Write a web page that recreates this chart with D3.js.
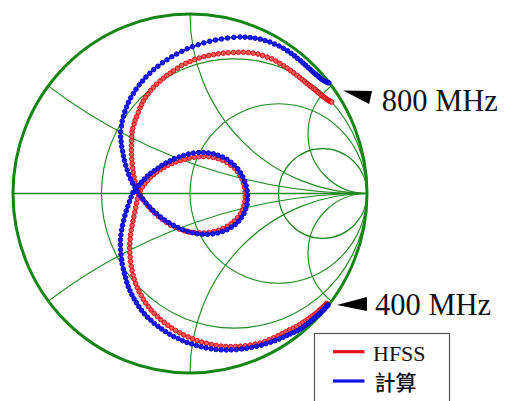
<!DOCTYPE html>
<html>
<head>
<meta charset="utf-8">
<script src="https://cdn.jsdelivr.net/npm/d3@7"></script>
<style>
  html, body { margin: 0; padding: 0; background: #fff; }
  svg { display: block; }
</style>
</head>
<body>
<svg id="chart" width="511" height="401"></svg>
<script>
// Reflection coefficient sweeps from 400 MHz to 800 MHz, stored as [Re Γ, Im Γ]
const seriesNames = ["HFSS", "計算"];

const hfss = [
  [0.772,-0.612],[0.767,-0.618],[0.761,-0.624],[0.754,-0.631],[0.746,-0.637],[0.738,-0.645],[0.730,-0.652],[0.721,-0.660],
  [0.711,-0.667],[0.701,-0.676],[0.689,-0.684],[0.677,-0.693],[0.664,-0.702],[0.650,-0.711],[0.635,-0.721],[0.618,-0.731],
  [0.601,-0.741],[0.582,-0.751],[0.562,-0.760],[0.541,-0.771],[0.519,-0.782],[0.496,-0.793],[0.472,-0.804],[0.447,-0.814],
  [0.422,-0.825],[0.395,-0.833],[0.368,-0.839],[0.341,-0.844],[0.313,-0.848],[0.285,-0.851],[0.258,-0.852],[0.230,-0.853],
  [0.202,-0.852],[0.175,-0.850],[0.147,-0.846],[0.120,-0.841],[0.093,-0.835],[0.066,-0.828],[0.040,-0.820],[0.015,-0.810],
  [-0.010,-0.799],[-0.035,-0.788],[-0.058,-0.776],[-0.081,-0.763],[-0.103,-0.749],[-0.125,-0.734],[-0.146,-0.718],[-0.166,-0.702],
  [-0.185,-0.685],[-0.203,-0.667],[-0.220,-0.649],[-0.236,-0.630],[-0.250,-0.610],[-0.264,-0.589],[-0.276,-0.568],[-0.288,-0.546],
  [-0.298,-0.524],[-0.307,-0.501],[-0.315,-0.477],[-0.322,-0.454],[-0.327,-0.429],[-0.332,-0.405],[-0.336,-0.379],[-0.338,-0.354],
  [-0.340,-0.329],[-0.341,-0.304],[-0.340,-0.279],[-0.338,-0.254],[-0.336,-0.229],[-0.332,-0.204],[-0.327,-0.179],[-0.322,-0.154],
  [-0.317,-0.129],[-0.312,-0.104],[-0.307,-0.079],[-0.302,-0.054],[-0.297,-0.029],[-0.291,-0.005],[-0.281,0.016],[-0.269,0.036],
  [-0.255,0.055],[-0.240,0.073],[-0.224,0.090],[-0.206,0.105],[-0.188,0.120],[-0.168,0.133],[-0.147,0.145],[-0.125,0.157],
  [-0.102,0.167],[-0.079,0.176],[-0.054,0.183],[-0.029,0.191],[-0.004,0.197],[0.023,0.202],[0.050,0.205],[0.077,0.206],
  [0.105,0.205],[0.132,0.201],[0.159,0.194],[0.184,0.185],[0.208,0.173],[0.230,0.158],[0.250,0.142],[0.267,0.123],
  [0.282,0.102],[0.294,0.080],[0.303,0.056],[0.309,0.032],[0.312,0.007],[0.312,-0.018],[0.310,-0.044],[0.304,-0.068],
  [0.296,-0.092],[0.284,-0.114],[0.269,-0.135],[0.251,-0.153],[0.232,-0.169],[0.210,-0.183],[0.186,-0.195],[0.161,-0.205],
  [0.134,-0.212],[0.107,-0.217],[0.079,-0.220],[0.051,-0.220],[0.024,-0.218],[-0.004,-0.215],[-0.031,-0.208],[-0.058,-0.199],
  [-0.084,-0.188],[-0.109,-0.176],[-0.133,-0.161],[-0.156,-0.145],[-0.178,-0.128],[-0.199,-0.109],[-0.219,-0.090],[-0.237,-0.070],
  [-0.254,-0.049],[-0.270,-0.027],[-0.283,-0.005],[-0.294,0.018],[-0.303,0.042],[-0.311,0.067],[-0.316,0.092],[-0.321,0.117],
  [-0.324,0.142],[-0.327,0.167],[-0.329,0.192],[-0.330,0.217],[-0.331,0.242],[-0.331,0.267],[-0.330,0.293],[-0.329,0.318],
  [-0.327,0.342],[-0.323,0.363],[-0.316,0.387],[-0.310,0.408],[-0.301,0.428],[-0.292,0.452],[-0.283,0.476],[-0.273,0.496],
  [-0.264,0.515],[-0.251,0.535],[-0.237,0.554],[-0.223,0.573],[-0.207,0.591],[-0.189,0.609],[-0.169,0.627],[-0.151,0.642],
  [-0.132,0.657],[-0.113,0.670],[-0.094,0.683],[-0.071,0.698],[-0.048,0.713],[-0.024,0.725],[0.000,0.735],[0.026,0.747],
  [0.052,0.755],[0.079,0.763],[0.106,0.769],[0.133,0.774],[0.160,0.778],[0.188,0.782],[0.216,0.784],[0.245,0.786],
  [0.273,0.787],[0.301,0.787],[0.329,0.785],[0.357,0.782],[0.384,0.777],[0.410,0.769],[0.436,0.760],[0.461,0.750],
  [0.485,0.738],[0.507,0.725],[0.529,0.712],[0.549,0.699],[0.568,0.685],[0.586,0.672],[0.603,0.659],[0.619,0.647],
  [0.634,0.635],[0.648,0.624],[0.661,0.613],[0.673,0.603],[0.685,0.594],[0.697,0.585],[0.707,0.577],[0.718,0.568],
  [0.727,0.560],[0.736,0.553],[0.745,0.547],[0.753,0.540],[0.760,0.535],[0.767,0.530],[0.773,0.525],[0.779,0.521],
  [0.784,0.518],[0.789,0.515],[0.793,0.513],[0.797,0.511],[0.801,0.510]
];

const calc = [
  [0.780,-0.621],[0.774,-0.627],[0.768,-0.633],[0.762,-0.640],[0.755,-0.647],[0.748,-0.654],[0.740,-0.662],[0.732,-0.670],
  [0.723,-0.677],[0.713,-0.686],[0.703,-0.694],[0.692,-0.704],[0.680,-0.714],[0.667,-0.724],[0.653,-0.734],[0.637,-0.745],
  [0.622,-0.755],[0.605,-0.765],[0.586,-0.774],[0.567,-0.782],[0.547,-0.791],[0.525,-0.801],[0.503,-0.811],[0.479,-0.820],
  [0.455,-0.829],[0.429,-0.837],[0.403,-0.845],[0.376,-0.851],[0.348,-0.857],[0.320,-0.862],[0.291,-0.866],[0.262,-0.870],
  [0.233,-0.871],[0.205,-0.872],[0.176,-0.871],[0.147,-0.869],[0.119,-0.865],[0.090,-0.860],[0.063,-0.854],[0.036,-0.847],
  [0.009,-0.838],[-0.017,-0.830],[-0.042,-0.820],[-0.067,-0.808],[-0.092,-0.797],[-0.115,-0.784],[-0.138,-0.770],[-0.160,-0.755],
  [-0.181,-0.740],[-0.202,-0.724],[-0.221,-0.706],[-0.240,-0.689],[-0.258,-0.670],[-0.274,-0.650],[-0.289,-0.630],[-0.303,-0.609],
  [-0.316,-0.587],[-0.328,-0.565],[-0.339,-0.542],[-0.349,-0.519],[-0.357,-0.495],[-0.364,-0.470],[-0.371,-0.445],[-0.377,-0.420],
  [-0.383,-0.393],[-0.386,-0.367],[-0.390,-0.340],[-0.392,-0.313],[-0.393,-0.285],[-0.393,-0.258],[-0.390,-0.231],[-0.386,-0.203],
  [-0.381,-0.177],[-0.375,-0.150],[-0.368,-0.123],[-0.360,-0.097],[-0.351,-0.071],[-0.342,-0.045],[-0.333,-0.020],[-0.322,0.005],
  [-0.307,0.025],[-0.292,0.044],[-0.275,0.062],[-0.258,0.080],[-0.240,0.097],[-0.222,0.113],[-0.202,0.127],[-0.181,0.141],
  [-0.159,0.157],[-0.136,0.170],[-0.112,0.182],[-0.088,0.193],[-0.062,0.203],[-0.036,0.212],[-0.009,0.220],[0.019,0.225],
  [0.048,0.228],[0.076,0.228],[0.104,0.226],[0.132,0.221],[0.158,0.213],[0.184,0.203],[0.209,0.190],[0.231,0.174],
  [0.251,0.157],[0.270,0.137],[0.285,0.115],[0.298,0.093],[0.309,0.068],[0.317,0.043],[0.323,0.017],[0.325,-0.009],
  [0.325,-0.035],[0.322,-0.061],[0.315,-0.086],[0.305,-0.111],[0.291,-0.134],[0.275,-0.154],[0.255,-0.173],[0.233,-0.188],
  [0.209,-0.202],[0.183,-0.212],[0.156,-0.220],[0.128,-0.225],[0.099,-0.227],[0.070,-0.227],[0.041,-0.224],[0.013,-0.218],
  [-0.015,-0.211],[-0.042,-0.201],[-0.068,-0.190],[-0.094,-0.177],[-0.119,-0.163],[-0.144,-0.148],[-0.167,-0.131],[-0.189,-0.113],
  [-0.210,-0.094],[-0.229,-0.075],[-0.248,-0.054],[-0.266,-0.033],[-0.282,-0.011],[-0.297,0.011],[-0.311,0.034],[-0.324,0.057],
  [-0.336,0.081],[-0.346,0.106],[-0.355,0.131],[-0.363,0.157],[-0.370,0.183],[-0.376,0.209],[-0.381,0.236],[-0.386,0.262],
  [-0.389,0.289],[-0.392,0.316],[-0.392,0.344],[-0.387,0.376],[-0.383,0.403],[-0.376,0.430],[-0.368,0.456],[-0.359,0.482],
  [-0.348,0.508],[-0.335,0.533],[-0.320,0.557],[-0.305,0.581],[-0.287,0.605],[-0.268,0.627],[-0.249,0.649],[-0.227,0.670],
  [-0.205,0.690],[-0.181,0.709],[-0.156,0.728],[-0.130,0.745],[-0.103,0.762],[-0.075,0.777],[-0.046,0.792],[-0.016,0.806],
  [0.014,0.818],[0.046,0.829],[0.078,0.839],[0.111,0.848],[0.144,0.855],[0.178,0.861],[0.212,0.866],[0.248,0.870],
  [0.283,0.872],[0.311,0.871],[0.340,0.869],[0.368,0.865],[0.397,0.860],[0.424,0.852],[0.451,0.844],[0.477,0.833],
  [0.503,0.822],[0.527,0.809],[0.550,0.795],[0.571,0.781],[0.590,0.767],[0.607,0.753],[0.624,0.740],[0.639,0.727],
  [0.653,0.715],[0.666,0.703],[0.679,0.692],[0.690,0.681],[0.702,0.671],[0.712,0.662],[0.723,0.654],[0.732,0.646],
  [0.741,0.639],[0.750,0.633],[0.758,0.628],[0.765,0.624],[0.772,0.621],[0.778,0.618],[0.784,0.617]
];

// Sweep end labels: first point, last point
const sweepLabels = ["400 MHz", "800 MHz"];

// Smith chart grid: normalised resistance circles and reactance arcs
const resistanceCircles = [1 / 3, 1, 3];
const reactanceArcs = [1 / 3, 1, 3];

const svg = d3.select("#chart");
const x = d3.scaleLinear().domain([-1, 1]).range([13, 367]);
const y = d3.scaleLinear().domain([-1, 1]).range([373, 14]);
const kx = x(1) - x(0);
const ky = y(0) - y(1);

const GRID = "#1f891f";
const RIM = "#168516";

svg.append("rect").attr("width", 511).attr("height", 401).attr("fill", "#fff");

svg.append("defs").append("clipPath").attr("id", "unit-disc")
  .append("ellipse")
  .attr("cx", x(0)).attr("cy", y(0)).attr("rx", kx).attr("ry", ky);

const grid = svg.append("g")
  .attr("clip-path", "url(#unit-disc)")
  .attr("fill", "none")
  .attr("stroke", GRID)
  .attr("stroke-width", 1.15);

grid.selectAll("ellipse.rcirc")
  .data(resistanceCircles)
  .join("ellipse")
  .attr("class", "rcirc")
  .attr("cx", r => x(r / (1 + r)))
  .attr("cy", y(0))
  .attr("rx", r => kx / (1 + r))
  .attr("ry", r => ky / (1 + r));

grid.selectAll("ellipse.xarc")
  .data(reactanceArcs.flatMap(v => [v, -v]))
  .join("ellipse")
  .attr("class", "xarc")
  .attr("cx", x(1))
  .attr("cy", v => y(1 / v))
  .attr("rx", v => kx / Math.abs(v))
  .attr("ry", v => ky / Math.abs(v));

// real axis
svg.append("line")
  .attr("x1", x(-1)).attr("x2", x(1))
  .attr("y1", y(0)).attr("y2", y(0))
  .attr("stroke", GRID).attr("stroke-width", 1.6);

// |Γ| = 1 rim
svg.append("ellipse")
  .attr("cx", x(0)).attr("cy", y(0)).attr("rx", kx).attr("ry", ky)
  .attr("fill", "none").attr("stroke", RIM).attr("stroke-width", 3);

// simulated / computed loci
const series = [
  { name: seriesNames[0], data: hfss, line: "#e8101a", fill: "#f25a5a", edge: "#e00010" },
  { name: seriesNames[1], data: calc, line: "#1010e8", fill: "#1a1af2", edge: "#0000c8" }
];

const path = d3.line().x(d => x(d[0])).y(d => y(d[1]));

series.forEach(s => {
  const g = svg.append("g");
  g.append("path")
    .attr("d", path(s.data))
    .attr("fill", "none")
    .attr("stroke", s.line)
    .attr("stroke-width", 1.5);
  g.selectAll("circle")
    .data(s.data)
    .join("circle")
    .attr("cx", d => x(d[0]))
    .attr("cy", d => y(d[1]))
    .attr("r", 2.3)
    .attr("fill", s.fill)
    .attr("stroke", s.edge)
    .attr("stroke-width", 0.9);
});

// sweep end markers
function midpoint(a, b) {
  return [(x(a[0]) + x(b[0])) / 2, (y(a[1]) + y(b[1])) / 2];
}
const startAnchor = midpoint(hfss[0], calc[0]);
const endAnchor = midpoint(hfss[hfss.length - 1], calc[calc.length - 1]);

const pointers = [
  { at: startAnchor, tri: [[9.6, 0.9], [39.6, -7.2], [39.6, 6.9]], text: [47.7, 10.9], label: sweepLabels[0] },
  { at: endAnchor, tri: [[12.8, -1.9], [41.8, -1.4], [38.8, 11.6]], text: [51.5, 19.1], label: sweepLabels[1] }
];

pointers.forEach(p => {
  const pts = p.tri.map(o => [p.at[0] + o[0], p.at[1] + o[1]]);
  svg.append("path")
    .attr("d", "M" + pts.map(q => q.join(",")).join("L") + "Z")
    .attr("fill", "#000");
  svg.append("text")
    .attr("x", p.at[0] + p.text[0])
    .attr("y", p.at[1] + p.text[1])
    .attr("font-family", "'Liberation Serif', 'Times New Roman', serif")
    .attr("font-size", 30.5)
    .attr("fill", "#111")
    .text(p.label);
});

// legend
const legend = svg.append("g").attr("transform", "translate(314.5,333.5)");
legend.append("rect")
  .attr("width", 135).attr("height", 72)
  .attr("fill", "#fff").attr("stroke", "#555").attr("stroke-width", 1.2);

const legendRows = [
  { s: series[0], y: 18.2, font: "'Liberation Serif', 'Times New Roman', serif", size: 22, tx: 58.5, ty: 27, weight: 400 },
  { s: series[1], y: 47.5, font: "'Noto Sans CJK TC', 'Noto Sans CJK JP', sans-serif", size: 21, tx: 60, ty: 56.5, weight: 500 }
];
legendRows.forEach(r => {
  legend.append("line")
    .attr("x1", 18.5).attr("x2", 50)
    .attr("y1", r.y).attr("y2", r.y)
    .attr("stroke", r.s.line).attr("stroke-width", 3.2);
  legend.append("text")
    .attr("x", r.tx).attr("y", r.ty)
    .attr("font-family", r.font)
    .attr("font-size", r.size)
    .attr("font-weight", r.weight)
    .attr("fill", "#111")
    .text(r.s.name);
});
</script>
</body>
</html>
